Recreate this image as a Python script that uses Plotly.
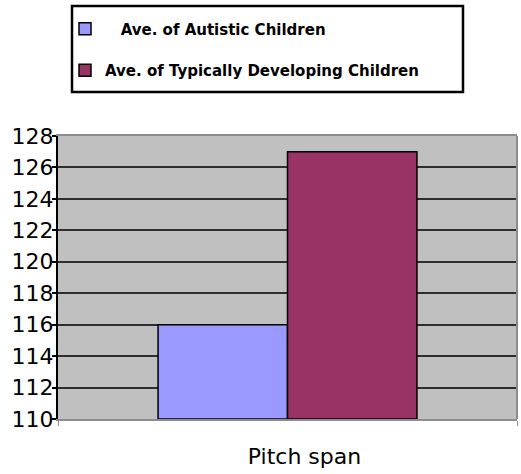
import plotly.graph_objects as go

categories = ["Pitch span"]
series_names = ["Ave. of Autistic Children", "Ave. of Typically Developing Children"]
autistic = [116.0]
typical = [127.0]
y_min, y_max, y_step = 110, 128, 2

colors = ["#9999FF", "#993366"]
FONT = "DejaVu Sans"

fig = go.Figure()
for name, vals, col, disp in [
    (series_names[0], autistic, colors[0], "\u00a0" * 3 + series_names[0]),
    (series_names[1], typical, colors[1], series_names[1]),
]:
    fig.add_trace(go.Bar(
        x=categories,
        y=[v - y_min for v in vals],
        base=y_min,
        name=disp,
        legendgroup=name,
        marker=dict(color=col, line=dict(color="black", width=1.5)),
        hovertext=[f"{name}: {v}" for v in vals],
    ))

# legend frame in paper coordinates (plot area is 459 x 283 px, starting at x=58, bottom y=419)
def px_x(p):
    return (p - 58) / 459.0

def px_y(p):
    return (419 - p) / 283.0

fig.update_layout(
    width=521, height=474,
    margin=dict(l=58, r=4, t=136, b=55),
    paper_bgcolor="white",
    plot_bgcolor="#C0C0C0",
    barmode="group",
    bargap=0.436,
    bargroupgap=0,
    font=dict(family=FONT, color="black"),
    legend=dict(
        x=px_x(65), y=1 - 12.5 / 474, xanchor="left", yanchor="top",
        xref="paper", yref="container",
        bgcolor="rgba(0,0,0,0)", borderwidth=0,
        font=dict(family=FONT, size=15, color="black", weight="bold"),
        traceorder="grouped", tracegroupgap=19,
    ),
    xaxis=dict(
        type="category",
        showgrid=False,
        showline=True, linecolor="#8c8c8c", linewidth=1.5, mirror=True,
        ticks="outside", tickson="boundaries", ticklen=5, tickcolor="#8c8c8c",
        tickfont=dict(family=FONT, size=22),
        ticklabelstandoff=17, ticklabelshift=17,
    ),
    yaxis=dict(
        range=[y_min, y_max],
        tickmode="linear", tick0=y_min, dtick=y_step,
        showgrid=True, gridcolor="#2e2e2e", gridwidth=2,
        showline=True, linecolor="black", linewidth=2,
        ticks="outside", ticklen=4, tickcolor="black", tickwidth=2,
        tickfont=dict(family=FONT, size=22),
        ticklabelstandoff=-6,
        zeroline=False,
    ),
    shapes=[
        dict(type="line", xref="paper", yref="paper", x0=1, x1=1, y0=0, y1=1,
             line=dict(color="#8c8c8c", width=2)),
        dict(type="rect", xref="paper", yref="paper",
             x0=px_x(72), x1=px_x(463), y0=px_y(92), y1=px_y(6),
             fillcolor="white", line=dict(color="black", width=2.5)),
    ],
)

fig.write_html("out.html")
